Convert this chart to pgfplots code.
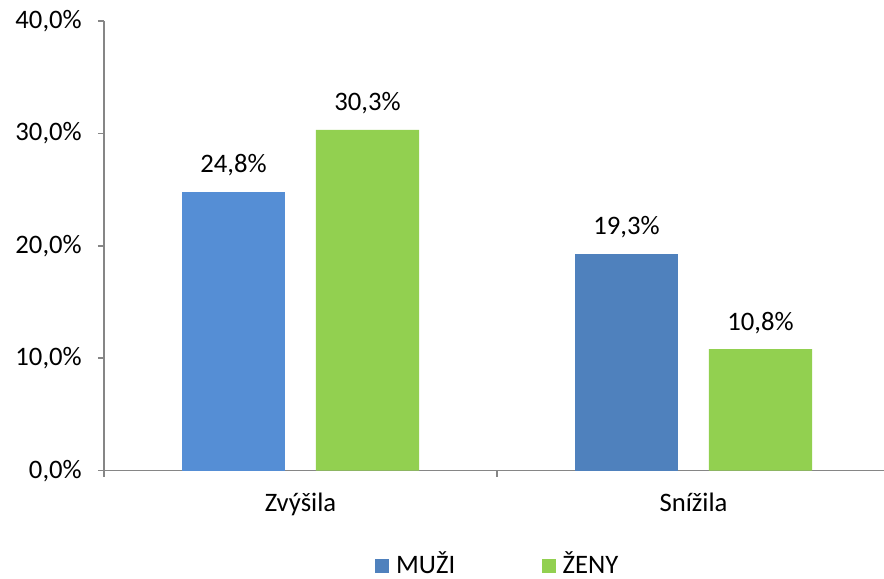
\documentclass[border=0pt]{standalone}
\usepackage{fontspec}
\setmainfont{Carlito}
\usepackage{pgfplots}
\pgfplotsset{compat=1.18}
\definecolor{blueA}{HTML}{558ED5}
\definecolor{blueB}{HTML}{4F81BD}
\definecolor{greenA}{HTML}{92D050}
\definecolor{axgray}{HTML}{868686}
\begin{document}
\begin{tikzpicture}
\begin{axis}[
  scale only axis,
  width=589.5pt, height=337.3pt,
  xmin=-0.5, xmax=1.5,
  ymin=0, ymax=40,
  axis x line*=bottom, axis y line*=left,
  axis line style={draw=axgray, line width=1.2pt},
  ytick={0,10,20,30,40},
  xtick={0,1},
  xticklabels={Zvýšila, Snížila},
  x tick style={draw=none},
  y tick style={draw=axgray, line width=1.2pt},
  tick align=outside,
  major tick length=4.5pt,
  extra x ticks={-0.5,0.5,1.5},
  extra x tick labels={},
  extra x tick style={x tick style={draw=axgray, line width=1.2pt}, major tick length=4.5pt},
  font=\fontsize{20}{24}\selectfont,
  ticklabel style={font=\fontsize{20}{24}\selectfont},
  yticklabel={\pgfmathprintnumber[assume math mode=true,fixed,fixed zerofill,precision=1,use comma]{\tick}\%},
  yticklabel style={anchor=east, inner sep=0pt, xshift=-12pt},
  xticklabel style={anchor=base, inner sep=0pt, yshift=-26pt},
  ybar, bar width=77.6pt,
  every axis plot/.append style={draw=none},
  nodes near coords={\pgfmathprintnumber[assume math mode=true,fixed,fixed zerofill,precision=1,use comma]{\pgfplotspointmeta}\%},
  every node near coord/.append style={anchor=base, inner sep=0pt, yshift=14.25pt, font=\fontsize{20}{24}\selectfont, text=black},
  legend columns=2,
  legend style={draw=none, fill=none, at={(0.345,-0.207)}, anchor=west, inner sep=0pt,
    font=\fontsize{20}{24}\selectfont,
    /tikz/every odd column/.append style={column sep=3pt},
    /tikz/every even column/.append style={column sep=63pt}},
  legend image code/.code={\fill[#1] (0pt,-7pt) rectangle (10.5pt,3.5pt);},
]
\addplot[fill=blueA, bar shift=-50.25pt, forget plot] coordinates {(0,24.8)};
\addplot[fill=blueB, bar shift=-50.25pt] coordinates {(1,19.3)};
\addplot[fill=greenA, bar shift=50.25pt] coordinates {(0,30.3) (1,10.8)};
\legend{MUŽI, ŽENY}
\end{axis}
\pgfresetboundingbox
\useasboundingbox (-78pt,-81.2pt) rectangle (585pt,353pt);
\end{tikzpicture}
\end{document}
